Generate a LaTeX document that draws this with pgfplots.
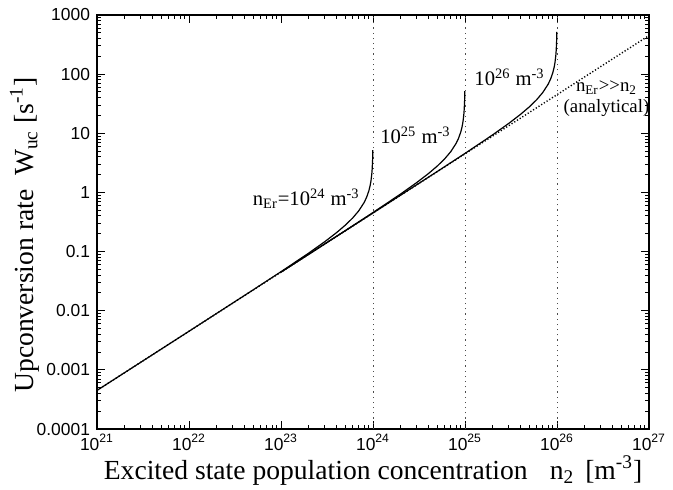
\documentclass[border=0pt]{standalone}
\usepackage{pgfplots}
\pgfplotsset{compat=1.18}
\usepackage{fontspec}
\setmainfont{Liberation Serif}
\setsansfont{Liberation Sans}
\usetikzlibrary{calc}

\begin{document}
\begin{tikzpicture}
\begin{axis}[
    scale only axis, width=276pt, height=207pt,
    xmode=log, ymode=log,
    xmin=1e21, xmax=1e27, ymin=1e-4, ymax=1e3,
    xtick={1e21,1e22,1e23,1e24,1e25,1e26,1e27},
    xticklabels={10\textsuperscript{21},10\textsuperscript{22},10\textsuperscript{23},10\textsuperscript{24},10\textsuperscript{25},10\textsuperscript{26},10\textsuperscript{27}},
    ytick={1e-4,1e-3,1e-2,1e-1,1,10,100,1000},
    yticklabels={0.0001,0.001,0.01,0.1,1,10,100,1000},
    tick align=inside,
    major tick length=4pt, minor tick length=2pt,
    tick style={black, line width=0.5pt},
    axis line style={line width=1pt},
    tick label style={font=\sffamily\fontsize{8.7}{10}\selectfont},
    xticklabel style={yshift=1pt},
    xlabel={Excited state population concentration\hspace{0.8em}n\textsubscript{2}\hspace{0.4em}[m\textsuperscript{-3}]},
    ylabel={Upconversion rate\hspace{0.5em}W\textsubscript{uc} [s\textsuperscript{-1}]},
    label style={font=\fontsize{13.8}{16}\selectfont},
    xlabel style={yshift=4pt},
    ylabel style={yshift=-8pt, xshift=-6.5pt},
    every axis plot/.append style={line width=0.6pt},
]
% analytical limit n_Er >> n2
\addplot[black, densely dotted, line width=0.7pt] coordinates {(1e21,4.5e-4) (1e27,450)};

% n_Er positions
\addplot[dotted, black!70, line width=0.5pt] coordinates {(1e24,1e-4) (1e24,1e3)};
\addplot[dotted, black!70, line width=0.5pt] coordinates {(1e25,1e-4) (1e25,1e3)};
\addplot[dotted, black!70, line width=0.5pt] coordinates {(1e26,1e-4) (1e26,1e3)};

% n_Er = 1e24
\addplot[black] coordinates {
  (1e21,4.5e-4) (1e22,4.5e-3) (5e22,0.02263) (1e23,0.04573) (2e23,0.09432)
  (3e23,0.14768) (4e23,0.20826) (5e23,0.27986) (6e23,0.36906) (7e23,0.48935)
  (8e23,0.67496) (8.5e23,0.82238) (9e23,1.0592) (9.3e23,1.3032) (9.5e23,1.5711)
  (9.7e23,2.0655) (9.8e23,2.5525) (9.9e23,3.6424) (9.95e23,5.1702)};
% n_Er = 1e25
\addplot[black] coordinates {
  (1e23,0.045) (2e23,0.0901) (5e23,0.2263) (1e24,0.4573) (2e24,0.9432)
  (3e24,1.4768) (4e24,2.0826) (5e24,2.7986) (6e24,3.6906) (7e24,4.8935)
  (8e24,6.7496) (8.5e24,8.2238) (9e24,10.592) (9.3e24,13.032) (9.5e24,15.711)
  (9.7e24,20.655) (9.8e24,25.525) (9.9e24,36.424) (9.95e24,51.702)};
% n_Er = 1e26
\addplot[black] coordinates {
  (1e23,0.045) (1e24,0.4502) (5e24,2.263) (1e25,4.573) (2e25,9.432)
  (3e25,14.768) (4e25,20.826) (5e25,27.986) (6e25,36.906) (7e25,48.935)
  (8e25,67.496) (8.5e25,82.238) (9e25,105.92) (9.3e25,130.32) (9.5e25,157.11)
  (9.7e25,206.55) (9.8e25,255.25) (9.9e25,364.24) (9.95e25,517.02)};

\node[anchor=east, inner sep=1pt, font=\fontsize{10.3}{12}\selectfont]
  at (axis cs:7.6e23,0.79) {n\textsubscript{Er}=10\textsuperscript{24} m\textsuperscript{-3}};
\node[anchor=east, inner sep=1pt, font=\fontsize{10.3}{12}\selectfont]
  at (axis cs:7.4e24,9.2) {10\textsuperscript{25} m\textsuperscript{-3}};
\node[anchor=east, inner sep=1pt, font=\fontsize{10.3}{12}\selectfont]
  at (axis cs:7.8e25,89) {10\textsuperscript{26} m\textsuperscript{-3}};
\node[align=center, inner sep=1pt, font=\fontsize{9.4}{10.5}\selectfont]
  at (axis cs:3.45e26,38) {n\textsubscript{Er}>{}>n\textsubscript{2}\\(analytical)};

\coordinate (sw) at (rel axis cs:0,0);
\coordinate (ne) at (rel axis cs:1,1);
\end{axis}
\pgfresetboundingbox
\path[use as bounding box] ($(sw)+(-48.5pt,-30pt)$) rectangle ($(ne)+(12pt,7.5pt)$);
\end{tikzpicture}
\end{document}
